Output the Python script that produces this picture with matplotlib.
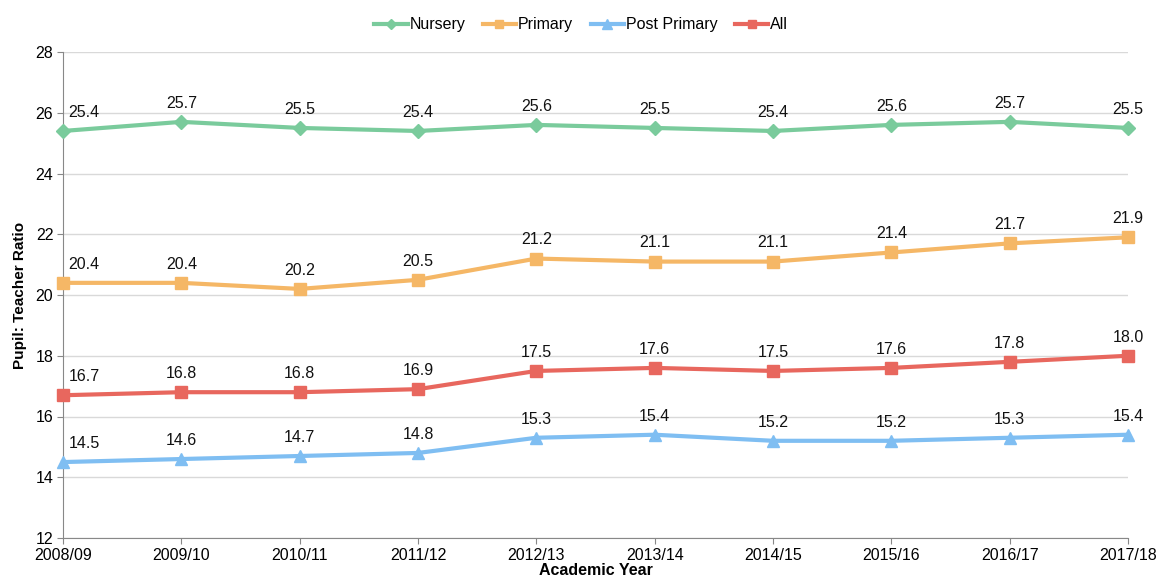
import numpy as np
import matplotlib.pyplot as plt

plt.rcParams['font.family'] = ['Liberation Sans', 'DejaVu Sans']

years = ["2008/09", "2009/10", "2010/11", "2011/12", "2012/13",
         "2013/14", "2014/15", "2015/16", "2016/17", "2017/18"]
nursery = [25.4, 25.7, 25.5, 25.4, 25.6, 25.5, 25.4, 25.6, 25.7, 25.5]
primary = [20.4, 20.4, 20.2, 20.5, 21.2, 21.1, 21.1, 21.4, 21.7, 21.9]
post_primary = [14.5, 14.6, 14.7, 14.8, 15.3, 15.4, 15.2, 15.2, 15.3, 15.4]
all_levels = [16.7, 16.8, 16.8, 16.9, 17.5, 17.6, 17.5, 17.6, 17.8, 18.0]

series = [
    ("Nursery", nursery, "#7ACB9C", "D", 7),
    ("Primary", primary, "#F5B766", "s", 8),
    ("Post Primary", post_primary, "#7FBEF2", "^", 9),
    ("All", all_levels, "#E8675E", "s", 8),
]

fig = plt.figure(figsize=(11.62, 5.86), dpi=100)
ax = fig.add_axes([63/1162, 1-538/586, (1128-63)/1162, (538-52)/586])

x = np.arange(len(years))
for name, vals, col, mk, ms in series:
    ax.plot(x, vals, color=col, lw=3, marker=mk, ms=ms, label=name,
            clip_on=False, zorder=3)
    for i, v in enumerate(vals):
        xo = 0.18 if i == 0 else 0
        ax.annotate(f"{v:.1f}", (x[i] + xo, v), xytext=(0, 8),
                    textcoords="offset points", ha="center", va="bottom",
                    fontsize=11.5, color="#111111")

ax.set_xlim(0, 9)
ax.set_ylim(12, 28)
ax.set_yticks(range(12, 29, 2))
ax.set_xticks(x)
ax.set_xticklabels(years)
ax.tick_params(labelsize=11.5, length=4, color="#888888", pad=3)
ax.grid(axis="y", color="#D9D9D9", lw=1)
ax.set_axisbelow(True)
for s in ["top", "right"]:
    ax.spines[s].set_visible(False)
for s in ["left", "bottom"]:
    ax.spines[s].set_color("#888888")

ax.set_ylabel("Pupil: Teacher Ratio", fontsize=11, fontweight="bold", labelpad=6)
ax.set_xlabel("Academic Year", fontsize=11.5, fontweight="bold", labelpad=0)

fig.legend(loc="upper center", bbox_to_anchor=(0.5, 0.995), ncol=4, frameon=False,
           fontsize=11.5, handlelength=2.1, columnspacing=1.1, handletextpad=0.1,
           markerscale=0.8)

fig.savefig("out.png", dpi=100)
